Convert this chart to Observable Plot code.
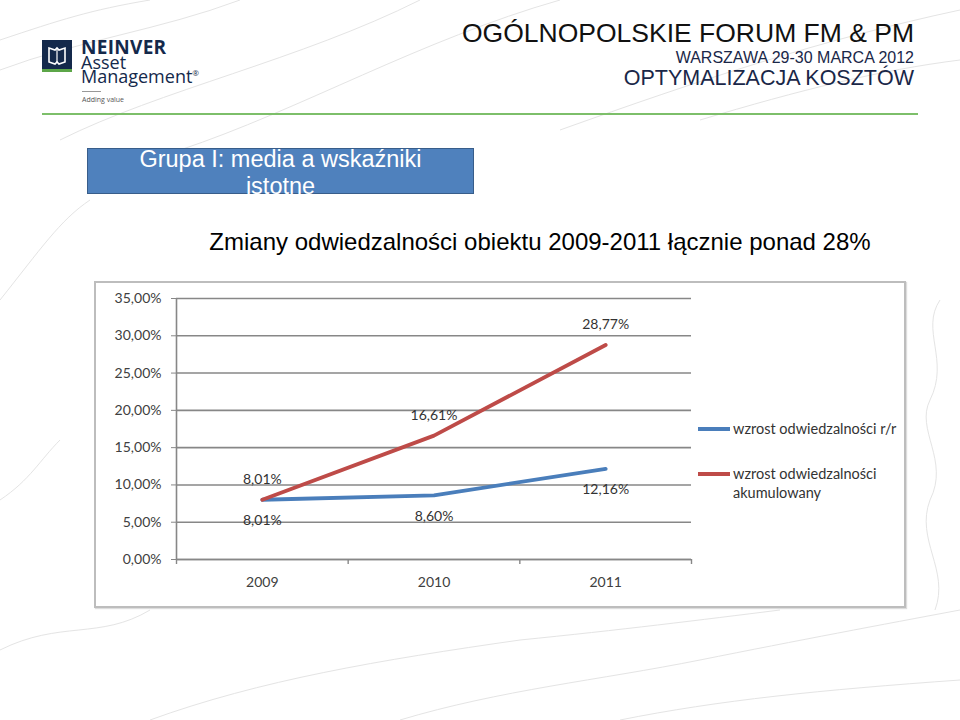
<!DOCTYPE html>
<html>
<head>
<meta charset="utf-8">
<script src="https://cdn.jsdelivr.net/npm/d3@7"></script>
<script src="https://cdn.jsdelivr.net/npm/@observablehq/plot@0.6"></script>
<style>
  html, body { margin: 0; padding: 0; background: #fff; }
  #page { position: relative; width: 960px; height: 720px; overflow: hidden; font-family: "Liberation Sans", Arial, sans-serif; }
  .abs { position: absolute; white-space: nowrap; }
  #bg { position: absolute; left: 0; top: 0; }
  #frame { position: absolute; left: 94px; top: 281px; width: 808px; height: 323px; border: 2px solid #bdbdbd; background: #fff; box-shadow: 1px 1px 1px #ddd; }
  #chart { position: absolute; left: 96px; top: 283px; }
  .legend-item { position: absolute; font-family: Lato, "Open Sans", sans-serif; font-size: 14.5px; color: #333; line-height: 19px; }
  .legend-swatch { position: absolute; height: 3.5px; width: 32px; }
  .logo { font-family: 'Open Sans', sans-serif; color: #14294b; }
</style>
</head>
<body>
<div id="page">
  <svg id="bg" width="960" height="720">
    <g fill="none" stroke="#e4e4e4" stroke-width="1">
      <path d="M0,40 C60,20 90,10 150,0"/>
      <path d="M0,70 C80,40 160,30 240,0"/>
      <path d="M60,140 C160,90 300,60 420,0"/>
      <path d="M180,150 C300,110 420,40 560,0"/>
      <path d="M560,130 C700,80 820,40 960,10"/>
      <path d="M700,120 C800,90 880,70 960,60"/>
      <path d="M0,300 C40,250 60,220 90,200"/>
      <path d="M0,650 C60,620 100,640 150,610"/>
      <path d="M150,720 C260,680 380,660 520,640 C620,630 700,620 780,610"/>
      <path d="M400,720 C500,690 600,680 700,660 C800,640 880,625 960,610"/>
      <path d="M620,720 C720,700 820,690 960,680"/>
      <path d="M940,300 C920,330 950,360 930,400 C915,430 950,460 930,500 C915,540 950,570 935,610"/>
      <path d="M0,500 C30,480 40,460 60,440"/>
    </g>
  </svg>

  <!-- logo -->
  <svg class="abs" style="left:42px;top:40px" width="30" height="33">
    <rect x="0" y="0" width="30" height="30" fill="#14294b"/>
    <rect x="0" y="29" width="30" height="3" fill="#5ca648"/>
    <path d="M7,8 L13,10 L15,8 L17,10 L23,8 L23,22 L17,24 L15,22 L13,24 L7,22 Z" fill="none" stroke="#fff" stroke-width="1.6"/>
    <path d="M15,8 L15,22" stroke="#fff" stroke-width="1.2"/>
  </svg>
  <div class="abs logo" style="left:81px;top:40px;font-size:18px;line-height:14.5px"><span style="font-weight:700;font-size:19px;letter-spacing:0.3px">NEINVER</span><br>Asset<br>Management<span style="font-size:8px;vertical-align:top;line-height:8px">®</span></div>
  <div class="abs" style="left:82px;top:91px;width:19px;height:1px;background:#999"></div>
  <div class="abs" style="left:82px;top:95px;font-family:'Open Sans',sans-serif;font-size:7px;line-height:9px;color:#555">Adding value</div>

  <!-- right header -->
  <div class="abs" style="right:46px;top:18px;font-size:26.5px;line-height:30px;color:#111">OGÓLNOPOLSKIE FORUM FM &amp; PM</div>
  <div class="abs" style="right:46px;top:49px;font-size:16px;line-height:18px;color:#1a2748">WARSZAWA 29-30 MARCA 2012</div>
  <div class="abs" style="right:46px;top:66px;font-size:21.5px;line-height:25px;color:#1a2748">OPTYMALIZACJA KOSZTÓW</div>
  <div class="abs" style="left:42px;top:113px;width:876px;height:2px;background:#7dbf6a"></div>

  <!-- group box -->
  <div class="abs" style="left:87px;top:148px;width:385px;height:44px;background:#4f81bd;border:1px solid #385d8a"></div>
  <div class="abs" style="left:87px;top:146px;width:387px;text-align:center;font-size:23.5px;line-height:27px;color:#fff">Grupa I: media a wskaźniki<br>istotne</div>

  <!-- title -->
  <div class="abs" id="title" style="left:0;width:1080px;top:228px;text-align:center;font-size:24px;line-height:28px;color:#000">Zmiany odwiedzalności obiektu 2009-2011 łącznie ponad 28%</div>

  <div id="frame"></div>
  <div id="chart"></div>

  <div class="legend-swatch" style="left:698px;top:427px;background:#4a7ebb"></div>
  <div class="legend-item" style="left:733px;top:419px">wzrost odwiedzalności r/r</div>
  <div class="legend-swatch" style="left:698px;top:472px;background:#be4b48"></div>
  <div class="legend-item" style="left:733px;top:464px">wzrost odwiedzalności<br>akumulowany</div>
</div>
<script>
// ---- data ----
const years = [2009, 2010, 2011];
const seriesNames = ["wzrost odwiedzalności r/r", "wzrost odwiedzalności akumulowany"];
const yoyGrowth = [8.01, 8.60, 12.16];
const cumulativeGrowth = [8.01, 16.61, 28.77];
const yTicks = [0, 5, 10, 15, 20, 25, 30, 35];
const seriesColors = ["#4a7ebb", "#be4b48"];

const rows = [];
years.forEach((y, i) => rows.push({year: y, value: yoyGrowth[i], series: seriesNames[0]}));
years.forEach((y, i) => rows.push({year: y, value: cumulativeGrowth[i], series: seriesNames[1]}));
const boundaries = [years[0] - 0.5, ...years.map(y => y + 0.5)];

const pct = v => v.toFixed(2).replace(".", ",") + "%";
const font = "Lato, 'Open Sans', sans-serif";

const chart = Plot.plot({
  width: 808,
  height: 323,
  marginLeft: 80,
  marginRight: 213,
  marginTop: 15,
  marginBottom: 47,
  style: {background: "transparent", fontFamily: font, fontSize: "14px", color: "#404040"},
  x: {domain: [boundaries[0], boundaries[boundaries.length - 1]], label: null},
  y: {domain: [0, 35], label: null},
  color: {domain: seriesNames, range: seriesColors},
  marks: [
    Plot.gridY(yTicks, {stroke: "#878787", strokeOpacity: 1, strokeWidth: 1.6}),
    Plot.axisY({ticks: yTicks, tickSize: 5, tickPadding: 10, tickFormat: pct, label: null, stroke: "#878787", fill: "#404040", fontSize: 14}),
    Plot.ruleX([boundaries[0]], {stroke: "#878787", strokeWidth: 1.6}),
    Plot.ruleY([0], {stroke: "#878787", strokeWidth: 1.6}),
    Plot.axisX({ticks: boundaries, tickSize: 5, tickFormat: () => "", label: null, stroke: "#878787", strokeWidth: 1.4}),
    Plot.axisX({ticks: years, tickSize: 0, tickPadding: 18, tickFormat: d => String(d), label: null, fill: "#404040", fontSize: 14}),
    Plot.line(rows, {x: "year", y: "value", z: "series", stroke: "series", strokeWidth: 3.8, strokeLinecap: "round"}),
    Plot.text(rows.filter(d => d.series === seriesNames[1]), {x: "year", y: "value", text: d => pct(d.value), dy: -20, fill: "#333", fontSize: 14}),
    Plot.text(rows.filter(d => d.series === seriesNames[0]), {x: "year", y: "value", text: d => pct(d.value), dy: 21, fill: "#333", fontSize: 14})
  ]
});
document.getElementById("chart").appendChild(chart);
</script>
</body>
</html>
